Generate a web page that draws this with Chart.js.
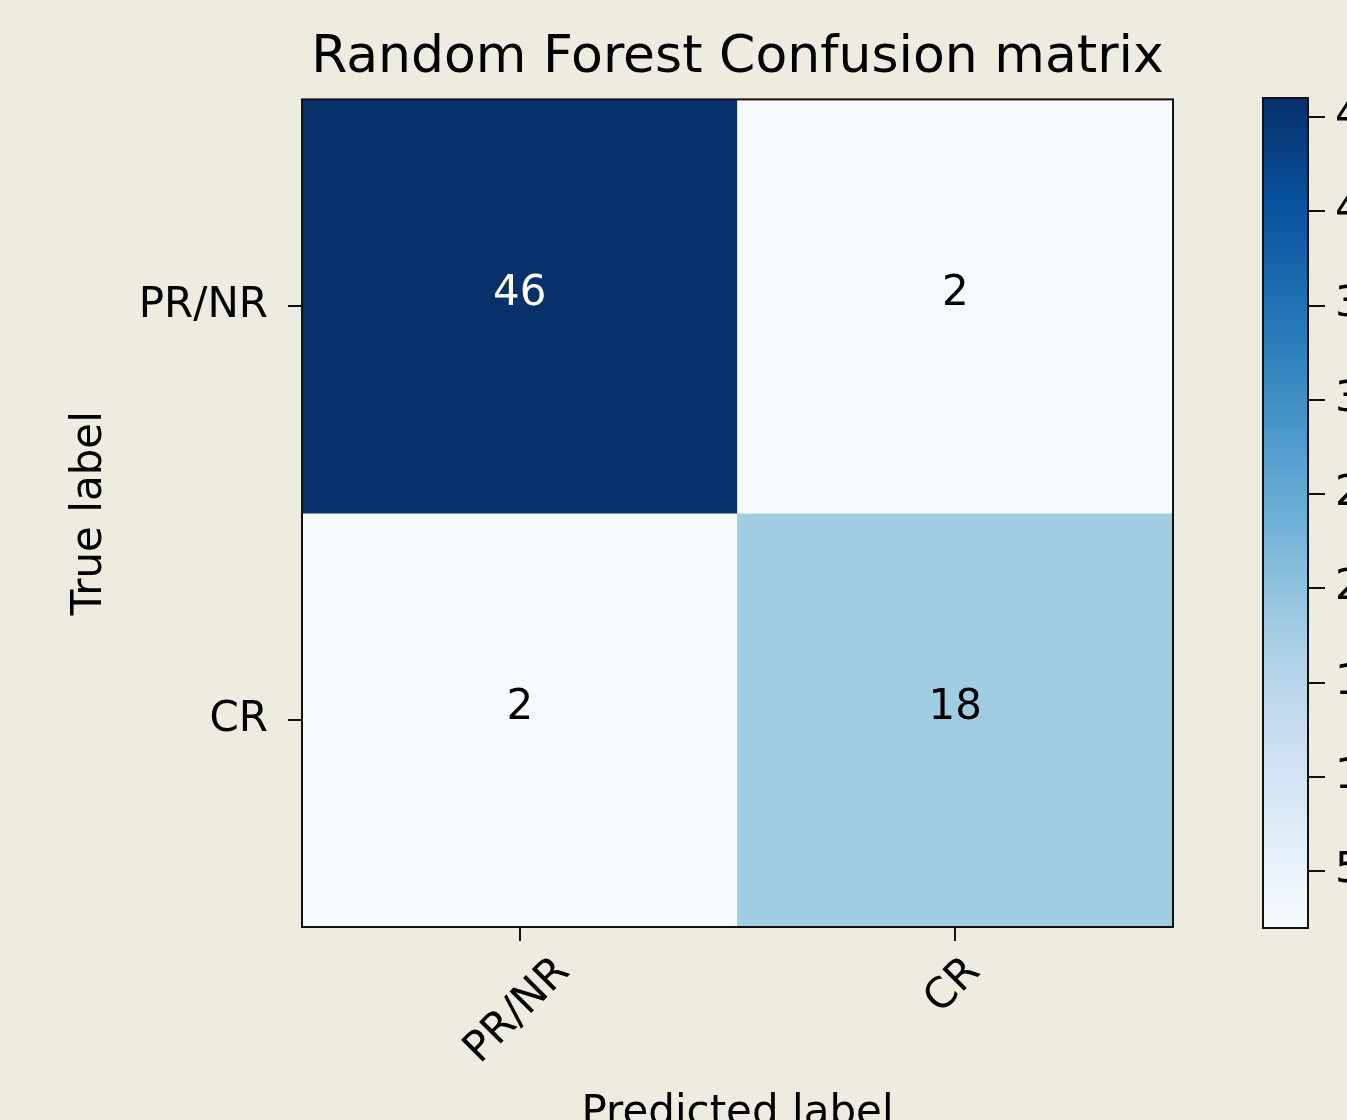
<!DOCTYPE html>
<html><head><meta charset="utf-8">
<script src="https://cdn.jsdelivr.net/npm/chart.js@4.4.1/dist/chart.umd.min.js"></script>
<style>
html,body{margin:0;padding:0;background:#eeebe0;overflow:hidden;width:1347px;height:1120px;position:relative;}
#c1{position:absolute;left:0;top:0;}
#c2{position:absolute;left:1200px;top:0;}
</style></head><body>
<canvas id="c1" width="1200" height="1160"></canvas>
<canvas id="c2" width="260" height="1120"></canvas>
<script>
// ---- data ----
const chartTitle = 'Random Forest Confusion matrix';
const classLabels = ['PR/NR', 'CR'];
const rowPRNR = [46, 2];
const rowCR = [2, 18];
const matrixRows = [rowPRNR, rowCR];
const colorbarTicks = [5, 10, 15, 20, 25, 30, 35, 40, 45];
const xAxisTitle = 'Predicted label';
const yAxisTitle = 'True label';

// ---- style ----
const FONT = "'DejaVu Sans', 'Liberation Sans', sans-serif";
const BLUES = ['#f7fbff','#deebf7','#c6dbef','#9ecae1','#6baed6','#4292c6','#2171b5','#08519c','#08306b'];
function hexToRgb(h){return [parseInt(h.slice(1,3),16),parseInt(h.slice(3,5),16),parseInt(h.slice(5,7),16)];}
function blues(t){
  t=Math.max(0,Math.min(1,t));
  const s=t*(BLUES.length-1);
  const i=Math.min(Math.floor(s),BLUES.length-2);
  const f=s-i; const a=hexToRgb(BLUES[i]), b=hexToRgb(BLUES[i+1]);
  return 'rgb('+a.map((c,k)=>Math.round(c+(b[k]-c)*f)).join(',')+')';
}
const allVals = matrixRows.flat();
const vmin = Math.min(...allVals), vmax = Math.max(...allVals);
const thresh = vmax/2;

const datasets = matrixRows.map((row,i)=>({
  label: classLabels[i],
  data: row.map(()=>[i, i+1]),
  backgroundColor: row.map(v=>blues((v-vmin)/(vmax-vmin))),
  borderWidth: 0,
  grouped: false,
  categoryPercentage: 1,
  barPercentage: 1
}));

const matrixPlugin = {
  id: 'matrixPlugin',
  afterDatasetsDraw(chart){
    const ctx = chart.ctx;
    ctx.save();
    ctx.font = '42px ' + FONT;
    ctx.textAlign = 'center';
    ctx.textBaseline = 'middle';
    matrixRows.forEach((row,i)=>{
      const meta = chart.getDatasetMeta(i);
      row.forEach((v,j)=>{
        const p = meta.data[j].getCenterPoint();
        ctx.fillStyle = v > thresh ? '#ffffff' : '#000000';
        ctx.fillText(String(v), p.x, p.y - 12);
      });
    });
    ctx.restore();
  },
  afterDraw(chart){
    const ctx = chart.ctx, a = chart.chartArea;
    ctx.save();
    ctx.strokeStyle = '#111';
    ctx.lineWidth = 2;
    ctx.strokeRect(a.left, a.top, a.right-a.left, a.bottom-a.top);
    // rotated x tick labels, centered on ticks
    const sx = chart.scales.x;
    ctx.font = '42px ' + FONT;
    ctx.fillStyle = '#000';
    ctx.textAlign = 'center';
    ctx.textBaseline = 'middle';
    classLabels.forEach((lab,i)=>{
      const x = sx.getPixelForTick(i);
      const w = ctx.measureText(lab).width;
      const h = 42*1.17;
      const half = (w+h)*Math.SQRT1_2/2;
      const top = a.bottom + 14 + 7;
      ctx.save();
      ctx.translate(x - 2, top+half);
      ctx.rotate(-Math.PI/4);
      ctx.fillText(lab, 0, 0);
      ctx.restore();
    });
    ctx.restore();
  }
};

new Chart(document.getElementById('c1'), {
  type: 'bar',
  data: { labels: classLabels, datasets },
  options: {
    responsive: false, animation: false, events: [],
    layout: { padding: { left: 0, right: 27, top: 0, bottom: 0 } },
    plugins: {
      legend: { display: false }, tooltip: { enabled: false },
      title: { display: true, fullSize: false, text: chartTitle, color: '#000',
        font: { family: FONT, size: 52, weight: 'normal', lineHeight: 1.2 },
        padding: { top: 27, bottom: 10 } }
    },
    scales: {
      x: {
        type: 'category', offset: true,
        grid: { offset: false, drawOnChartArea: false, drawTicks: true, tickLength: 14, color: '#111', lineWidth: 2 },
        border: { display: false },
        ticks: { display: false },
        title: { display: true, text: xAxisTitle, color: '#000', font: { family: FONT, size: 42, lineHeight: 1.2 }, padding: { top: 0, bottom: 21 } },
        afterFit(s){ s.height = 1160 - 927; }
      },
      y: {
        type: 'linear', min: 0, max: classLabels.length, reverse: true,
        afterBuildTicks(s){ s.ticks = classLabels.map((_,i)=>({ value: i + 0.5 })); },
        grid: { drawOnChartArea: false, drawTicks: true, tickLength: 14, color: '#111', lineWidth: 2 },
        border: { display: false },
        ticks: { color: '#000', font: { family: FONT, size: 42 }, padding: 20,
          callback: (v)=> classLabels[Math.floor(v)] },
        title: { display: true, text: yAxisTitle, color: '#000', font: { family: FONT, size: 42, lineHeight: 1.2 }, padding: { top: 65, bottom: 0 } },
        afterFit(s){ s.width = 302; }
      }
    }
  },
  plugins: [matrixPlugin]
});

// ---- colorbar ----
function cbarGradient(context){
  const chart = context.chart;
  if (!chart.chartArea || !chart.scales.y) return BLUES[0];
  const ys = chart.scales.y;
  const g = chart.ctx.createLinearGradient(0, ys.getPixelForValue(vmin), 0, ys.getPixelForValue(vmax));
  BLUES.forEach((c,i)=> g.addColorStop(i/(BLUES.length-1), c));
  return g;
}
const framePlugin = {
  id: 'cbarFrame',
  afterDraw(chart){
    const ctx = chart.ctx, a = chart.chartArea;
    ctx.save(); ctx.strokeStyle = '#111'; ctx.lineWidth = 2;
    ctx.strokeRect(a.left, a.top, a.right-a.left, a.bottom-a.top);
    ctx.restore();
  }
};
new Chart(document.getElementById('c2'), {
  type: 'bar',
  data: { labels: [''], datasets: [{ data: [[vmin, vmax]], backgroundColor: cbarGradient, borderWidth: 0, categoryPercentage: 1, barPercentage: 1 }] },
  options: {
    responsive: false, animation: false, events: [],
    layout: { padding: { left: 63, right: 0, top: 98, bottom: 192 } },
    plugins: { legend: { display: false }, tooltip: { enabled: false } },
    scales: {
      x: { display: false },
      y: {
        position: 'right', min: vmin, max: vmax,
        afterBuildTicks(s){ s.ticks = colorbarTicks.map(v=>({ value: v })); },
        grid: { drawOnChartArea: false, drawTicks: true, tickLength: 17, color: '#111', lineWidth: 2 },
        border: { display: false },
        ticks: { color: '#000', font: { family: FONT, size: 42 }, padding: 10 },
        afterFit(s){ s.width = 152; }
      }
    }
  },
  plugins: [framePlugin]
});
</script>
</body></html>
